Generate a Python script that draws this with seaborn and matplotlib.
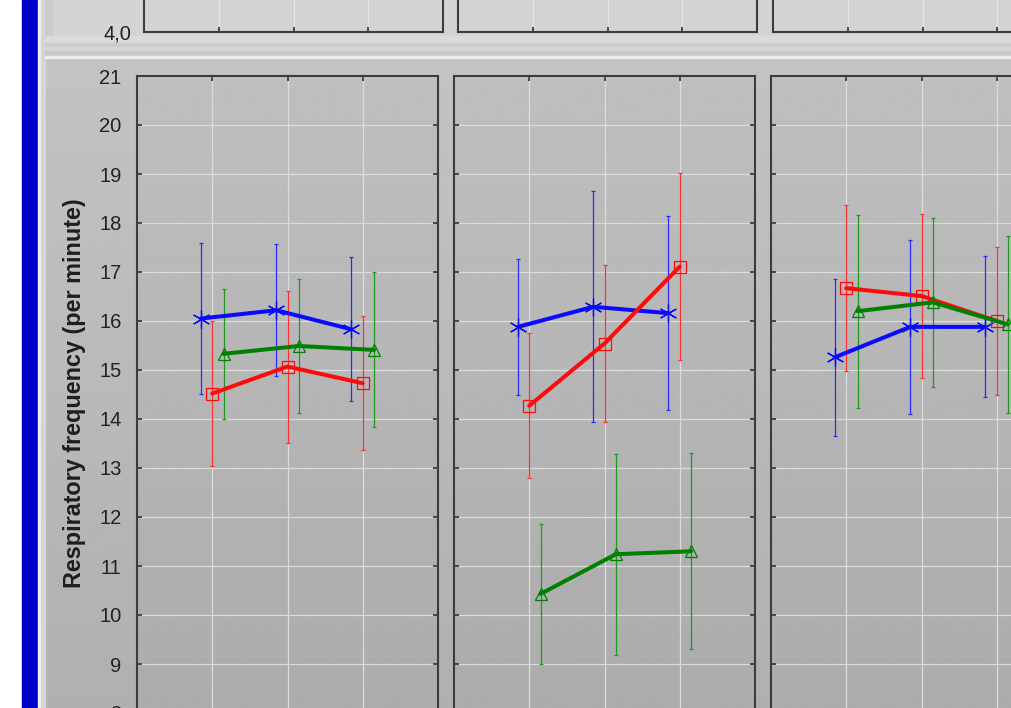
import numpy as np
import pandas as pd
import matplotlib
matplotlib.use("Agg")
import matplotlib.pyplot as plt
import seaborn as sns
from matplotlib.patches import Rectangle
from matplotlib.ticker import FixedLocator, FuncFormatter

# ---- data: means and half-width of error bars, per panel and group ----
time_points = [1, 2, 3]
panels = ["A", "B", "C"]

blue_mean = [[16.05, 16.22, 15.83], [15.88, 16.29, 16.16], [15.26, 15.88, 15.88]]
blue_err = [[1.54, 1.35, 1.47], [1.39, 2.36, 1.98], [1.60, 1.77, 1.44]]

red_mean = [[14.52, 15.07, 14.73], [14.27, 15.54, 17.11], [16.67, 16.51, 16.00]]
red_err = [[1.48, 1.55, 1.37], [1.48, 1.60, 1.91], [1.70, 1.68, 1.51]]

green_mean = [[15.33, 15.49, 15.41], [10.43, 11.24, 11.30], [16.20, 16.38, 15.93]]
green_err = [[1.33, 1.37, 1.58], [1.43, 2.05, 2.00], [1.97, 1.73, 1.80]]

y_ticks = [8, 9, 10, 11, 12, 13, 14, 15, 16, 17, 18, 19, 20, 21]
upper_ticks = [4.0]
y_label = "Respiratory frequency (per minute)"

series = [
    ("blue", blue_mean, blue_err),
    ("red", red_mean, red_err),
    ("green", green_mean, green_err),
]

rows = []
for name, means, errs in series:
    for p, panel in enumerate(panels):
        for t, m, e in zip(time_points, means[p], errs[p]):
            rows.append(dict(series=name, panel=panel, time=t, mean=m, err=e))
df = pd.DataFrame(rows)

# ---- styling ----
sns.set_style("ticks")
plt.rcParams["font.family"] = ["Liberation Sans", "DejaVu Sans"]

line_color = {"blue": "#0a0aff", "red": "#ff0a0a", "green": "#008000"}
bar_color = {"blue": "#2a2aff", "red": "#ff3030", "green": "#1f9a1f"}
marker = {"blue": (6, 2, 0), "red": "s", "green": "^"}
msize = {"blue": 13, "red": 8, "green": 8}
offset = {"blue": -0.15, "red": 0.0, "green": 0.15}

W, H = 1011, 708
fig = plt.figure(figsize=(W / 100, H / 100), dpi=100)

# ---- window background ----
bg = fig.add_axes([0, 0, 1, 1], zorder=-10)
grad = np.linspace(0.765, 0.69, 256)[:, None]
bg.imshow(grad, extent=(38, W, H, 57), cmap="gray", vmin=0, vmax=1,
          aspect="auto", interpolation="bilinear")
bg.add_patch(Rectangle((0, 0), 22, H, color="white"))
bg.add_patch(Rectangle((22, 0), 16, H, color="#0000c8"))
bg.add_patch(Rectangle((38, 0), 3, H, color="#f2f2f2"))
bg.add_patch(Rectangle((41, 0), 4, H, color="#d6d6d6"))
bg.add_patch(Rectangle((45, 0), W - 45, 40, color="#d4d4d4"))
bg.add_patch(Rectangle((45, 0), 7, 40, color="#cbcbcb"))
bg.add_patch(Rectangle((45, 36), W - 45, 7, color="#dadada"))
bg.add_patch(Rectangle((45, 43), W - 45, 4, color="#cdcdcd"))
bg.add_patch(Rectangle((45, 47), W - 45, 4, color="#d6d6d6"))
bg.add_patch(Rectangle((45, 51), W - 45, 5, color="#c8c8c8"))
bg.add_patch(Rectangle((45, 56), W - 45, 1.5, color="#ececec"))
bg.set_xlim(0, W)
bg.set_ylim(H, 0)
bg.axis("off")

spine_c = "#3c3c3c"


def style_axes(ax, face, grid_c):
    ax.set_facecolor(face)
    for s in ax.spines.values():
        s.set_visible(True)
        s.set_color(spine_c)
        s.set_linewidth(1.5)
    ax.set_xlim(0, 4)
    ax.xaxis.set_major_locator(FixedLocator([1, 2, 3]))
    ax.tick_params(axis="both", which="both", direction="in", length=3.5,
                   width=1.3, color=spine_c, top=True, right=True,
                   bottom=True, left=True, labelbottom=False)
    ax.grid(True, color=grid_c, lw=0.9)
    ax.set_axisbelow(True)
    ax.set_xlabel("")
    ax.set_ylabel("")


# ---- upper row (only its bottom edge is in view) ----
top_lefts = [144, 458, 773]
for i, x0 in enumerate(top_lefts):
    ax = fig.add_axes([x0 / W, 1 - 32 / H, 299 / W, 200 / H])
    style_axes(ax, "#d3d3d3", "#e6e6e6")
    ax.set_ylim(4.0, 6.0)
    ax.yaxis.set_major_locator(FixedLocator(upper_ticks))
    ax.yaxis.set_major_formatter(FuncFormatter(lambda v, p: f"{v:.1f}".replace(".", ",")))
    ax.tick_params(axis="y", labelsize=14.5, labelcolor="#222222", pad=9,
                   labelleft=(i == 0))

# ---- lower row: three panels ----
low_lefts = [137, 454, 771]
for i, (x0, panel) in enumerate(zip(low_lefts, panels)):
    ax = fig.add_axes([x0 / W, 1 - (76 + 637) / H, 301 / W, 637 / H])
    sub = df[df["panel"] == panel]
    # error bars underneath the lines
    for name in ["blue", "red", "green"]:
        s = sub[sub["series"] == name]
        ax.errorbar(s["time"] + offset[name], s["mean"], yerr=s["err"],
                    fmt="none", ecolor=bar_color[name], elinewidth=0.9,
                    capsize=1.6, capthick=0.9, zorder=2)
    for name in ["blue", "red", "green"]:
        s = sub[sub["series"] == name].assign(xpos=lambda d: d["time"] + offset[name])
        sns.lineplot(data=s, x="xpos", y="mean", ax=ax, color=line_color[name],
                     lw=2.9, marker=marker[name], markersize=msize[name],
                     markerfacecolor="none", markeredgecolor=line_color[name],
                     markeredgewidth=0.9, sort=False, errorbar=None,
                     legend=False, zorder=3)
    style_axes(ax, (0, 0, 0, 0.02), "#dcdcdc")
    ax.set_ylim(8, 21)
    ax.yaxis.set_major_locator(FixedLocator(y_ticks))
    ax.tick_params(axis="y", labelsize=14.5, labelcolor="#222222", pad=11,
                   labelleft=(i == 0))

fig.text(75 / W, 1 - 393 / H, y_label, rotation=90, ha="center", va="center",
         fontsize=16.8, fontweight="bold", color="#1e1e1e")

fig.savefig("out.png", dpi=100)
